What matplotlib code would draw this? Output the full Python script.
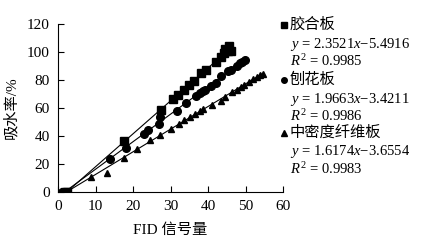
import numpy as np
import matplotlib; matplotlib.use("Agg")
import matplotlib.pyplot as plt

plt.rcParams.update({"font.family": ["Liberation Serif", "Noto Sans CJK SC"],
                     "font.size": 10.5, "mathtext.fontset": "custom",
                     "mathtext.rm": "Liberation Serif", "mathtext.it": "Liberation Serif:italic",
                     "axes.unicode_minus": False})

names = ["胶合板", "刨花板", "中密度纤维板"]
markers = ["s", "o", "^"]
eqs = ["$y$ = 2.3521$x$\u22125.4916", "$y$ = 1.9663$x$\u22123.4211", "$y$ = 1.6174$x$\u22123.6554"]
r2 = ["$R^2$ = 0.9985", "$R^2$ = 0.9986", "$R^2$ = 0.9983"]
coef = [(2.3521, -5.4916), (1.9663, -3.4211), (1.6174, -3.6554)]

x_ply = [1.8, 2.3, 17.5, 27.5, 30.7, 32.1, 33.6, 34.9, 36.2, 38.2, 39.4, 42.0, 43.5, 44.2, 44.6, 45.3, 45.7, 46.0]
y_ply = [0, 0, 36.3, 58.9, 66.5, 69.6, 73.2, 76.5, 79.6, 84.8, 87.2, 93.1, 96.7, 99.3, 102.1, 101.0, 104.5, 100.5]
x_pb = [1.2, 1.8, 13.8, 18.2, 22.8, 23.9, 26.8, 27.2, 31.8, 34.1, 36.7, 37.8, 38.7, 39.1, 40.9, 42.0, 43.5, 45.3, 46.0, 47.8, 48.4, 49.1, 49.9]
y_pb = [0, 0, 23.3, 31.4, 41.1, 44.2, 48.7, 53.4, 58.2, 63.7, 68.6, 70.5, 72.0, 72.9, 75.8, 77.9, 83.1, 86.5, 87.2, 89.8, 91.9, 93.1, 94.3]
x_mdf = [1.6, 8.7, 13.1, 17.5, 21.0, 24.5, 27.2, 30.0, 32.3, 33.6, 35.3, 36.6, 37.8, 38.7, 41.1, 43.5, 44.6, 46.4, 47.7, 48.8, 49.7, 51.0, 51.9, 53.0, 53.9, 54.7]
y_mdf = [0, 10.7, 13.8, 24.5, 30.4, 36.8, 40.9, 45.1, 48.9, 51.1, 53.4, 55.8, 57.7, 59.4, 62.5, 65.3, 68.2, 71.3, 73.2, 75.3, 76.7, 78.9, 80.8, 82.4, 83.6, 84.3]
data = [(x_ply, y_ply), (x_pb, y_pb), (x_mdf, y_mdf)]
msize = [5.5, 5.5, 5]

fig = plt.figure(figsize=(4.28, 2.48), dpi=100)
ax = fig.add_axes([58/428, 1-192/248, 225/428, 168/248])
for (xs, ys), m, ms, (k, b) in zip(data, markers, msize, coef):
    ax.plot(xs, ys, ls="none", marker=m, ms=ms, color="black")
    xl = np.array([(0 - b) / k, max(xs)])
    ax.plot(xl, k * xl + b, color="black", lw=0.8)

ax.set_xlim(0, 60); ax.set_ylim(0, 120)
ax.set_xticks(range(0, 61, 10)); ax.set_yticks(range(0, 121, 20))
ax.tick_params(direction="in", length=4, width=0.8, labelsize=11, pad=6)
for s in ["top", "right"]: ax.spines[s].set_visible(False)
ax.set_xlabel("FID 信号量", fontsize=11, labelpad=7)
ax.set_ylabel("吸水率/%", fontsize=11, labelpad=6)

# legend text on the right
ys0 = [25, 80, 133]
for i in range(3):
    y0 = ys0[i]
    fig.lines.append(plt.Line2D([284/428], [1-y0/248], transform=fig.transFigure, marker=markers[i],
                                ms=4, color="black", ls="none"))
    fig.text(290/428, 1-y0/248, names[i], va="center", ha="left", fontsize=11)
    fig.text(290/428, 1-(y0+19)/248, eqs[i], va="center", ha="left", fontsize=10.5)
    fig.text(290/428, 1-(y0+36)/248, r2[i], va="center", ha="left", fontsize=10.5)

fig.savefig("out.png", dpi=100)
